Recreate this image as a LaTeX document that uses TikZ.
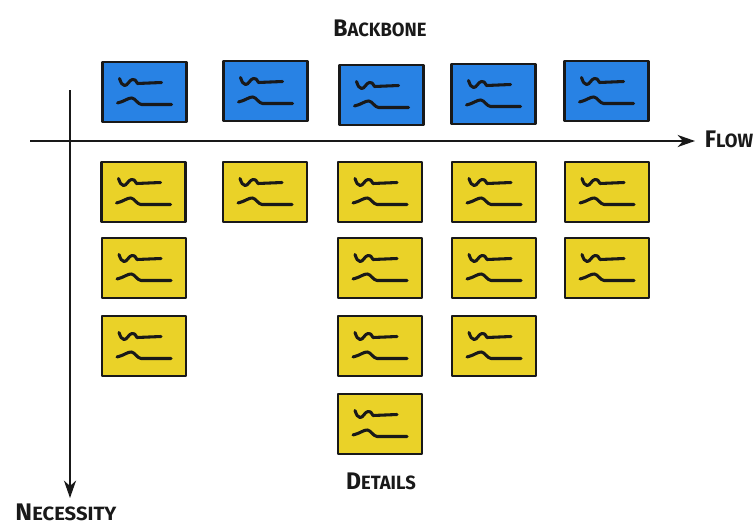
\documentclass[tikz,border=0pt]{standalone}
\usepackage{fontspec}
\usepackage{graphicx}
\setmainfont{Fira Sans}
\usetikzlibrary{arrows.meta}

\definecolor{cardblue}{RGB}{40,130,228}
\definecolor{cardyellow}{RGB}{234,210,40}
\definecolor{ink}{RGB}{25,25,25}

% hand-lettered small caps: tall first letter, smaller rest
\newcommand{\hcaps}[2]{\scalebox{1.15}[1.2]{{\fontsize{15}{15}\selectfont #1}{\fontsize{12}{12}\selectfont #2}}}

\tikzset{
  card/.style={draw=ink, line width=2.2pt, line join=round,
    minimum width=63pt, minimum height=45pt, inner sep=0pt},
  backbonecard/.style={card, fill=cardblue},
  detailcard/.style={card, fill=cardyellow},
  scribble/.style={draw=ink, line width=2.3pt, line cap=round, line join=round},
  axis/.style={draw=ink, line width=1.6pt,
    -{Stealth[length=13pt,width=9pt,inset=4pt]}},
  caption/.style={font=\bfseries, text=ink, inner sep=0pt}
}

% two scribbled text lines on a card
\newcommand{\scrib}[1]{%
  \draw[scribble, shift={(#1.center)}]
    (-25,-13.5) .. controls (-23,-8) .. (-20,-6.5)
    .. controls (-17,-6) and (-15,-12.5) .. (-12,-12.5)
    .. controls (-9.5,-12.5) .. (-7,-8.5) -- (17,-9.5);
  \draw[scribble, shift={(#1.center)}]
    (-27,11) .. controls (-20,9.5) and (-16,5.5) .. (-12.5,6)
    .. controls (-9,6.5) and (-7,12) .. (-3,12.5) -- (27,12.5);
}

\newcommand{\card}[4]{%
  \node[#4] (#1) at (#2,#3) {};
  \scrib{#1}
}

\begin{document}
\begin{tikzpicture}[x=0.75pt, y=-0.75pt]
  \useasboundingbox (0,0) rectangle (755,525);

  % axes
  \coordinate (hstart) at (30,141);
  \coordinate (hend) at (695,141);
  \coordinate (vstart) at (70,90);
  \coordinate (vend) at (70,498);
  \draw[axis] (hstart) -- (hend);
  \draw[axis] (vstart) -- (vend);

  % backbone row
  \card{b1}{144.5}{92}{backbonecard}
  \card{b2}{265.5}{91}{backbonecard}
  \card{b3}{381.5}{95}{backbonecard}
  \card{b4}{493.5}{94}{backbonecard}
  \card{b5}{606.5}{91}{backbonecard}

  % detail columns
  \card{d11}{143.5}{192}{detailcard}
  \card{d12}{144}{268}{detailcard}
  \card{d13}{144}{346}{detailcard}

  \card{d21}{265}{192}{detailcard}

  \card{d31}{380}{192}{detailcard}
  \card{d32}{380}{268}{detailcard}
  \card{d33}{380}{346}{detailcard}
  \card{d34}{380}{424}{detailcard}

  \card{d41}{494}{192}{detailcard}
  \card{d42}{494}{268}{detailcard}
  \card{d43}{494}{346}{detailcard}

  \card{d51}{607}{192}{detailcard}
  \card{d52}{607}{268}{detailcard}

  % captions
  \node[caption] (backbone) at (380,28) {\hcaps{B}{ACKBONE}};
  \node[caption] (flow) at (729,139) {\hcaps{F}{LOW}};
  \node[caption] (necessity) at (66,512) {\scalebox{1.1}[1]{\hcaps{N}{ECESSITY}}};
  \node[caption] (details) at (381,481) {\hcaps{D}{ETAILS}};
\end{tikzpicture}
\end{document}
